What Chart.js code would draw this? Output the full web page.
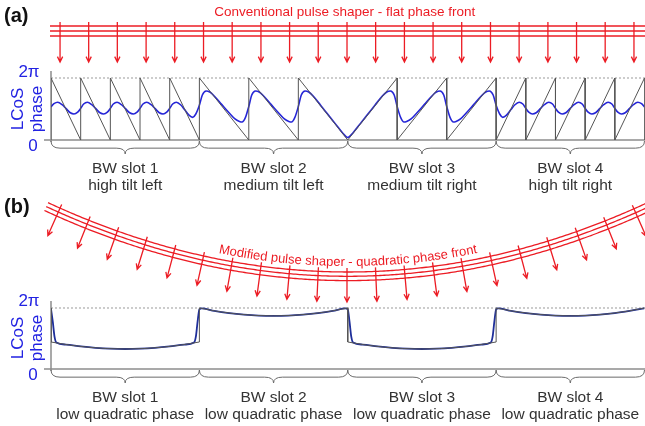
<!DOCTYPE html>
<html>
<head>
<meta charset="utf-8">
<script src="https://cdn.jsdelivr.net/npm/chart.js@4.4.1/dist/chart.umd.min.js"></script>
<style>
  html, body { margin: 0; padding: 0; background: #fff; }
</style>
</head>
<body>
<canvas id="chart" width="645" height="426"></canvas>
<script>
// text
const panelLetters = ['(a)', '(b)'];
const slotNames = ['BW slot 1', 'BW slot 2', 'BW slot 3', 'BW slot 4'];
const tiltLabels = ['high tilt left', 'medium tilt left', 'medium tilt right', 'high tilt right'];
const quadLabels = ['low quadratic phase', 'low quadratic phase', 'low quadratic phase', 'low quadratic phase'];
const yTickLabels = ['0', '2π'];
const yTitle = ['LCoS', 'phase'];
const titleA = 'Conventional pulse shaper - flat phase front';
const titleB = 'Modified pulse shaper - quadratic phase front';

// x in BW slots (0..4), y in units of pi (0..2)
const sawAX = [0, 0, 0.2, 0.2, 0.4, 0.4, 0.6, 0.6, 0.8, 0.8, 1, 1, 1.333, 1.333, 1.667, 1.667, 2,
  2.333, 2.333, 2.667, 2.667, 3, 3, 3.2, 3.2, 3.4, 3.4, 3.6, 3.6, 3.8, 3.8, 4, 4];
const sawAY = [0, 2, 0, 2, 0, 2, 0, 2, 0, 2, 0, 2, 0, 2, 0, 2, 0,
  2, 0, 2, 0, 2, 0, 2, 0, 2, 0, 2, 0, 2, 0, 2, 0];

const phaseAX = [
  0, 0.02, 0.045, 0.075, 0.1, 0.13, 0.155, 0.18,
  0.2, 0.22, 0.245, 0.275, 0.3, 0.33, 0.355, 0.38,
  0.4, 0.42, 0.445, 0.475, 0.5, 0.53, 0.555, 0.58,
  0.6, 0.62, 0.645, 0.675, 0.7, 0.73, 0.755, 0.78,
  0.8, 0.82, 0.845, 0.875, 0.9, 0.93, 0.955, 0.975,
  1, 1.02, 1.045, 1.07, 1.1, 1.15, 1.2, 1.24, 1.27, 1.288, 1.31,
  1.333, 1.353, 1.378, 1.403, 1.433, 1.483, 1.533, 1.573, 1.603, 1.621, 1.643,
  1.667, 1.687, 1.712, 1.737, 1.767, 1.817, 1.867, 1.917, 1.967, 2,
  2.033, 2.083, 2.133, 2.183, 2.233, 2.263, 2.288, 2.313,
  2.333, 2.357, 2.379, 2.397, 2.427, 2.467, 2.517, 2.567, 2.597, 2.622, 2.647,
  2.667, 2.69, 2.712, 2.73, 2.76, 2.8, 2.85, 2.9, 2.93, 2.955, 2.98,
  3, 3.025, 3.045, 3.07, 3.1, 3.125, 3.155, 3.18,
  3.2, 3.22, 3.245, 3.27, 3.3, 3.325, 3.355, 3.38,
  3.4, 3.42, 3.445, 3.47, 3.5, 3.525, 3.555, 3.58,
  3.6, 3.62, 3.645, 3.67, 3.7, 3.725, 3.755, 3.78,
  3.8, 3.82, 3.845, 3.87, 3.9, 3.925, 3.955, 3.98, 4];
const phaseAY = [
  1.07, 1.17, 1.22, 1.14, 1.02, 0.88, 0.84, 0.9,
  1.02, 1.16, 1.22, 1.14, 1.02, 0.88, 0.84, 0.9,
  1.02, 1.16, 1.22, 1.14, 1.02, 0.88, 0.84, 0.9,
  1.02, 1.16, 1.22, 1.14, 1.02, 0.88, 0.84, 0.9,
  1.02, 1.16, 1.22, 1.13, 0.98, 0.8, 0.73, 0.83,
  1.12, 1.45, 1.58, 1.55, 1.42, 1.15, 0.88, 0.68, 0.6, 0.58, 0.72,
  1.08, 1.45, 1.58, 1.55, 1.42, 1.15, 0.88, 0.68, 0.6, 0.58, 0.72,
  1.08, 1.45, 1.58, 1.55, 1.42, 1.12, 0.82, 0.52, 0.22, 0.08,
  0.22, 0.52, 0.82, 1.12, 1.42, 1.55, 1.58, 1.45,
  1.08, 0.72, 0.58, 0.6, 0.68, 0.88, 1.15, 1.42, 1.55, 1.58, 1.45,
  1.08, 0.72, 0.58, 0.6, 0.68, 0.88, 1.15, 1.42, 1.55, 1.58, 1.45,
  1.12, 0.83, 0.73, 0.8, 0.98, 1.13, 1.22, 1.16,
  1.02, 0.9, 0.84, 0.88, 1.02, 1.14, 1.22, 1.16,
  1.02, 0.9, 0.84, 0.88, 1.02, 1.14, 1.22, 1.16,
  1.02, 0.9, 0.84, 0.88, 1.02, 1.14, 1.22, 1.16,
  1.02, 0.9, 0.84, 0.88, 1.02, 1.14, 1.22, 1.17, 1.07];

const stepBX = [0, 0, 0.125, 0.25, 0.375, 0.5, 0.625, 0.75, 0.875, 1,
  1, 1.125, 1.25, 1.375, 1.5, 1.625, 1.75, 1.875, 2,
  2, 2.125, 2.25, 2.375, 2.5, 2.625, 2.75, 2.875, 3,
  3, 3.125, 3.25, 3.375, 3.5, 3.625, 3.75, 3.875, 4];
const stepBY = [2, 0.885, 0.785, 0.713, 0.67, 0.656, 0.67, 0.713, 0.785, 0.885,
  2, 1.886, 1.805, 1.756, 1.74, 1.756, 1.805, 1.886, 2,
  0.885, 0.785, 0.713, 0.67, 0.656, 0.67, 0.713, 0.785, 0.885,
  2, 1.886, 1.805, 1.756, 1.74, 1.756, 1.805, 1.886, 2];

const phaseBX = [0, 0.012, 0.024, 0.036, 0.1, 0.2, 0.3, 0.4, 0.5, 0.6, 0.7, 0.8, 0.9, 0.964, 0.976, 0.988,
  1, 1.015, 1.1, 1.2, 1.3, 1.4, 1.5, 1.6, 1.7, 1.8, 1.9, 1.985,
  2, 2.012, 2.024, 2.036, 2.1, 2.2, 2.3, 2.4, 2.5, 2.6, 2.7, 2.8, 2.9, 2.964, 2.976, 2.988,
  3, 3.015, 3.1, 3.2, 3.3, 3.4, 3.5, 3.6, 3.7, 3.8, 3.9, 4];
const phaseBY = [1.97, 1.55, 1.05, 0.87, 0.8, 0.74, 0.693, 0.665, 0.656, 0.665, 0.693, 0.74, 0.8, 0.87, 1.05, 1.55,
  1.95, 1.985, 1.906, 1.834, 1.782, 1.75, 1.74, 1.75, 1.782, 1.834, 1.906, 1.985,
  1.95, 1.55, 1.05, 0.87, 0.8, 0.74, 0.693, 0.665, 0.656, 0.665, 0.693, 0.74, 0.8, 0.87, 1.05, 1.55,
  1.95, 1.985, 1.906, 1.834, 1.782, 1.75, 1.74, 1.75, 1.782, 1.834, 1.906, 1.99];

// where the incoming beam arrows sit (BW slot units)
const arrowX = [0.061, 0.254, 0.447, 0.641, 0.834, 1.028, 1.221, 1.415, 1.608, 1.801, 1.995,
  2.188, 2.382, 2.575, 2.768, 2.962, 3.155, 3.349, 3.542, 3.735, 3.929];

const RED = '#ec1c24';
const BLUE_TXT = '#2222e2';
const FONT = '"Liberation Sans", Arial, sans-serif';

const pairs = (xs, ys) => xs.map((v, i) => ({ x: v, y: ys[i] }));

function seg(ctx, x1, y1, x2, y2) {
  ctx.beginPath(); ctx.moveTo(x1, y1); ctx.lineTo(x2, y2); ctx.stroke();
}

function arrow(ctx, x1, y1, x2, y2) {
  const a = Math.atan2(y2 - y1, x2 - x1), h = 6, s = 0.45;
  ctx.beginPath();
  ctx.moveTo(x1, y1); ctx.lineTo(x2, y2);
  ctx.moveTo(x2 - h * Math.cos(a - s), y2 - h * Math.sin(a - s));
  ctx.lineTo(x2, y2);
  ctx.lineTo(x2 - h * Math.cos(a + s), y2 - h * Math.sin(a + s));
  ctx.stroke();
}

function brace(ctx, xa, xb, top, h) {
  const mid = (xa + xb) / 2, yh = top + h * 0.55, r = 9;
  ctx.beginPath();
  ctx.moveTo(xa, top);
  ctx.quadraticCurveTo(xa, yh, xa + r, yh);
  ctx.lineTo(mid - r, yh);
  ctx.quadraticCurveTo(mid, yh, mid, top + h);
  ctx.quadraticCurveTo(mid, yh, mid + r, yh);
  ctx.lineTo(xb - r, yh);
  ctx.quadraticCurveTo(xb, yh, xb, top);
  ctx.stroke();
}

function axisLabels(ctx, y0) {
  ctx.fillStyle = BLUE_TXT;
  ctx.font = '17px ' + FONT;
  ctx.textAlign = 'center';
  ctx.textBaseline = 'middle';
  ctx.fillText(yTickLabels[1], 29, y0 - 68);
  ctx.fillText(yTickLabels[0], 33, y0 + 6);
  [[18, yTitle[0]], [37, yTitle[1]]].forEach(([px, t]) => {
    ctx.save();
    ctx.translate(px, y0 - 31);
    ctx.rotate(-Math.PI / 2);
    ctx.fillText(t, 0, 0);
    ctx.restore();
  });
}

function textOnCurve(ctx, str, curve, normal, xCenter, lift) {
  const pts = [];
  for (let px = 0; px <= 700; px += 0.5) {
    const [nx, ny] = normal(px);
    pts.push([px - nx * lift, curve(px) - ny * lift]);
  }
  const s = [0];
  for (let i = 1; i < pts.length; i++) {
    s.push(s[i - 1] + Math.hypot(pts[i][0] - pts[i - 1][0], pts[i][1] - pts[i - 1][1]));
  }
  const widths = [...str].map(ch => ctx.measureText(ch).width);
  const total = widths.reduce((a, b) => a + b, 0);
  let pos = s[Math.round(xCenter / 0.5)] - total / 2;
  ctx.textAlign = 'center';
  ctx.textBaseline = 'alphabetic';
  [...str].forEach((ch, k) => {
    const target = pos + widths[k] / 2;
    let i = 1;
    while (i < s.length - 1 && s[i] < target) i++;
    const t = (target - s[i - 1]) / (s[i] - s[i - 1]);
    const X = pts[i - 1][0] + t * (pts[i][0] - pts[i - 1][0]);
    const Y = pts[i - 1][1] + t * (pts[i][1] - pts[i - 1][1]);
    const ang = Math.atan2(pts[i][1] - pts[i - 1][1], pts[i][0] - pts[i - 1][0]);
    ctx.save();
    ctx.translate(X, Y);
    ctx.rotate(ang);
    ctx.fillText(ch, 0, 0);
    ctx.restore();
    pos += widths[k];
  });
}

const figure = {
  id: 'figure',
  beforeDatasetsDraw(chart) {
    const { ctx, scales } = chart;
    const x = scales.x;
    const xl = x.getPixelForValue(0), xr = x.getPixelForValue(4);
    ctx.save();
    ['yA', 'yB'].forEach(id => {
      const y = scales[id];
      const y0 = y.getPixelForValue(0), y2 = y.getPixelForValue(2);
      ctx.strokeStyle = '#9a9a9a'; ctx.lineWidth = 1; ctx.setLineDash([2, 2]);
      seg(ctx, xl, y2, xr + 1, y2);
      ctx.setLineDash([]);
      ctx.strokeStyle = '#8c8c8c'; ctx.lineWidth = 1.5;
      seg(ctx, xl, y2 - 7, xl, y0 + 2);
      seg(ctx, xl - 7, y0, xr + 1, y0);
    });
    ctx.restore();
  },
  afterDatasetsDraw(chart) {
    const { ctx, scales } = chart;
    const x = scales.x, yA = scales.yA, yB = scales.yB;
    ctx.save();

    ctx.fillStyle = '#111';
    ctx.font = 'bold 20px ' + FONT;
    ctx.textAlign = 'left';
    ctx.textBaseline = 'middle';
    ctx.fillText(panelLetters[0], 4, 16);
    ctx.fillText(panelLetters[1], 4, 207);

    [yA, yB].forEach(y => axisLabels(ctx, y.getPixelForValue(0)));

    [[yA, tiltLabels], [yB, quadLabels]].forEach(([y, sub]) => {
      const y0 = y.getPixelForValue(0);
      slotNames.forEach((name, i) => {
        const a = x.getPixelForValue(i), b = x.getPixelForValue(i + 1);
        ctx.strokeStyle = '#6b6b6b'; ctx.lineWidth = 1;
        brace(ctx, a, b, y0 + 1, 13);
        ctx.fillStyle = '#333';
        ctx.font = '15.5px ' + FONT;
        ctx.textAlign = 'center';
        ctx.textBaseline = 'alphabetic';
        ctx.fillText(name, (a + b) / 2, y0 + 33);
        ctx.fillText(sub[i], (a + b) / 2, y0 + 50);
      });
    });

    // (a) flat phase front
    const y0A = yA.getPixelForValue(0);
    ctx.strokeStyle = RED; ctx.fillStyle = RED; ctx.lineWidth = 1.3;
    [-114, -109, -104].forEach(d => seg(ctx, x.getPixelForValue(0) - 1, y0A + d, 645, y0A + d));
    arrowX.forEach(v => {
      const px = x.getPixelForValue(v);
      arrow(ctx, px, y0A - 118, px, y0A - 78);
    });
    ctx.font = '13.5px ' + FONT;
    ctx.textAlign = 'center';
    ctx.textBaseline = 'alphabetic';
    ctx.fillText(titleA, x.getPixelForValue(2) - 3, y0A - 123.5);

    // (b) quadratic phase front
    const y0B = yB.getPixelForValue(0);
    const xv = x.getPixelForValue(2), yv = y0B - 97;
    const xe = x.getPixelForValue(4.02), ye = y0B - 166.3;
    const k = (ye - yv) / ((xe - xv) ** 2);
    const curve = px => yv + k * (px - xv) ** 2;
    const normal = px => {
      const d = 2 * k * (px - xv), l = Math.hypot(d, 1);
      return [-d / l, 1 / l];
    };
    const xStart = x.getPixelForValue(-0.02);
    [0, 4.3, 8.6].forEach(off => {
      ctx.beginPath();
      for (let px = xStart; px <= 665; px += 2) {
        const [nx, ny] = normal(px);
        const X = px + nx * off, Y = curve(px) + ny * off;
        if (px === xStart) ctx.moveTo(X, Y); else ctx.lineTo(X, Y);
      }
      ctx.stroke();
    });
    arrowX.forEach(v => {
      const px = x.getPixelForValue(v);
      const [nx, ny] = normal(px), py = curve(px);
      arrow(ctx, px - 4 * nx, py - 4 * ny, px + 30 * nx, py + 30 * ny);
    });
    ctx.font = '13px ' + FONT;
    textOnCurve(ctx, titleB, curve, normal, xv, 6);

    ctx.restore();
  }
};

Chart.defaults.font.family = FONT;

new Chart(document.getElementById('chart'), {
  type: 'scatter',
  data: {
    datasets: [
      { data: pairs(sawAX, sawAY), yAxisID: 'yA', borderColor: '#555', borderWidth: 1,
        showLine: true, pointRadius: 0, tension: 0 },
      { data: pairs(phaseAX, phaseAY), yAxisID: 'yA', borderColor: '#2626d6', borderWidth: 1.6,
        showLine: true, pointRadius: 0, cubicInterpolationMode: 'monotone' },
      { data: pairs(stepBX, stepBY), yAxisID: 'yB', borderColor: '#555', borderWidth: 1,
        showLine: true, pointRadius: 0, tension: 0 },
      { data: pairs(phaseBX, phaseBY), yAxisID: 'yB', borderColor: '#1f2f9a', borderWidth: 1.8,
        showLine: true, pointRadius: 0, cubicInterpolationMode: 'monotone' }
    ]
  },
  options: {
    responsive: false,
    animation: false,
    events: [],
    layout: { padding: { left: 51, right: 0.5, top: 0, bottom: 0 } },
    plugins: { legend: { display: false }, tooltip: { enabled: false } },
    scales: {
      x: { type: 'linear', min: 0, max: 4, display: false },
      y: { display: false },
      yA: { type: 'linear', position: 'left', min: -9.226, max: 4.516, display: false },
      yB: { type: 'linear', position: 'left', min: -1.869, max: 12.098, display: false }
    }
  },
  plugins: [figure]
});
</script>
</body>
</html>
